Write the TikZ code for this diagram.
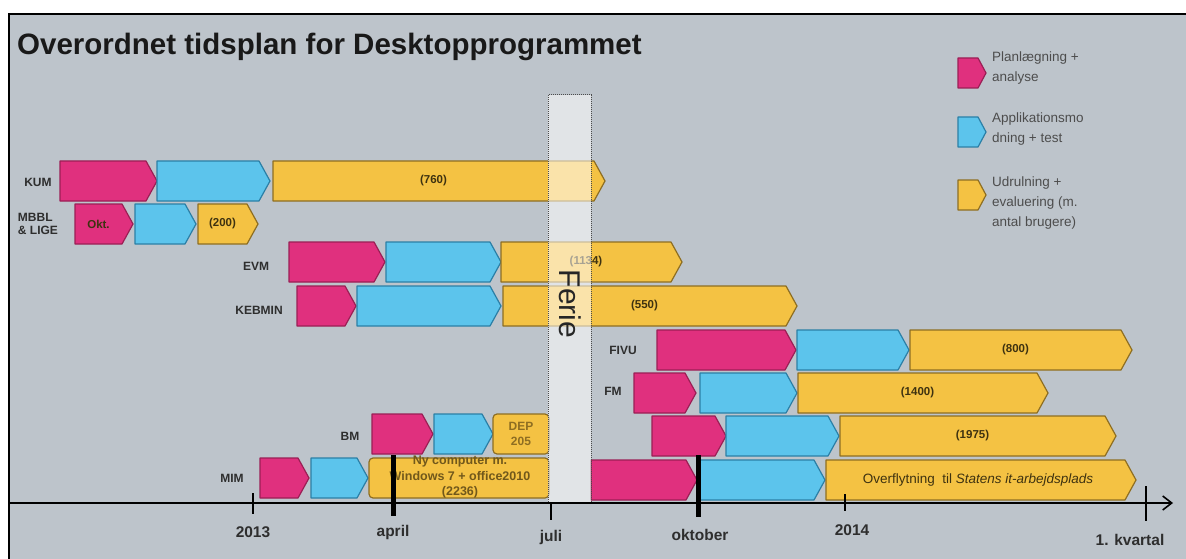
\documentclass[tikz,border=0pt]{standalone}
\usepackage{fontspec}
\setmainfont{Liberation Sans}
\usetikzlibrary{arrows.meta}

\definecolor{panel}{HTML}{BDC4CB}
\definecolor{plan}{HTML}{E0307E}
\definecolor{planline}{HTML}{9B1F55}
\definecolor{app}{HTML}{5CC4EC}
\definecolor{appline}{HTML}{2B7FA6}
\definecolor{roll}{HTML}{F4C243}
\definecolor{rollline}{HTML}{8E6E22}
\definecolor{ink}{HTML}{2E2E2E}
\definecolor{barink}{HTML}{3E3210}

% one phase of a row: name, style, from x, to x, top y, text
\newcommand{\phase}[6]{%
  \draw[#2] (#3,#5) -- (#4-11,#5) -- (#4,#5+20) -- (#4-11,#5+40) -- (#3,#5+40) -- cycle;
  \node[bartxt] (#1) at ({(#3+#4-11)/2},#5+20) {#6};
}

\begin{document}
\begin{tikzpicture}[x=1pt,y=-1pt,
  pl/.style={fill=plan,draw=planline,line width=1.2pt,line join=round},
  ap/.style={fill=app,draw=appline,line width=1.2pt,line join=round},
  ud/.style={fill=roll,draw=rollline,line width=1.2pt,line join=round},
  bartxt/.style={font=\fontsize{11.5}{13}\selectfont\bfseries,text=barink,align=center,inner sep=0pt},
  rowlbl/.style={font=\fontsize{12}{13.5}\selectfont\bfseries,text=ink,align=left,inner sep=0pt},
  axlbl/.style={font=\fontsize{15.5}{17}\selectfont\bfseries,text=ink,inner sep=0pt},
  legtxt/.style={font=\fontsize{13.5}{20}\selectfont,text=ink!85,align=left,anchor=north west,inner sep=0pt}]
  \useasboundingbox (0,0) rectangle (1186,559);
  \fill[white] (0,0) rectangle (1186,559);
  \fill[panel] (9,14) rectangle (1186,559);
  \draw[line width=2pt] (9,559) -- (9,14) -- (1186,14);

  \node[anchor=west,inner sep=0pt,font=\fontsize{29.5}{34}\selectfont\bfseries,text=black!90] (title) at (17,47) {Overordnet tidsplan for Desktopprogrammet};

  % legend
  \draw[pl] (958,58) -- (978,58) -- (986,73) -- (978,88) -- (958,88) -- cycle;
  \node[legtxt] (leg-pl) at (992,52) {Planlægning +\\analyse};
  \draw[ap] (958,117) -- (978,117) -- (986,132) -- (978,147) -- (958,147) -- cycle;
  \node[legtxt] (leg-ap) at (992,113) {Applikationsmo\\dning + test};
  \draw[ud] (958,180) -- (978,180) -- (986,195) -- (978,210) -- (958,210) -- cycle;
  \node[legtxt] (leg-ud) at (992,177) {Udrulning +\\evaluering  (m.\\antal brugere)};

  % rows
  \node[rowlbl] (kum) at (38,182) {KUM};
  \phase{kum-pl}{pl}{60}{157}{161}{}
  \phase{kum-ap}{ap}{157}{270}{161}{}
  \phase{kum-ud}{ud}{273}{605}{161}{(760)}

  \node[rowlbl] (mbbl) at (38,224) {MBBL\\\& LIGE};
  \phase{mbbl-pl}{pl}{75}{133}{204}{Okt.}
  \phase{mbbl-ap}{ap}{135}{196}{204}{}
  \phase{mbbl-ud}{ud}{198}{258}{204}{(200)}

  \node[rowlbl] (evm) at (256,266) {EVM};
  \phase{evm-pl}{pl}{289}{385}{242}{}
  \phase{evm-ap}{ap}{386}{501}{242}{}
  \phase{evm-ud}{ud}{501}{682}{242}{(1134)}

  \node[rowlbl] (kebmin) at (259,310) {KEBMIN};
  \phase{kebmin-pl}{pl}{297}{356}{286}{}
  \phase{kebmin-ap}{ap}{357}{501}{286}{}
  \phase{kebmin-ud}{ud}{503}{797}{286}{(550)}

  \node[rowlbl] (fivu) at (623,350) {FIVU};
  \phase{fivu-pl}{pl}{657}{796}{330}{}
  \phase{fivu-ap}{ap}{797}{909}{330}{}
  \phase{fivu-ud}{ud}{910}{1132}{330}{(800)}

  \node[rowlbl] (fm) at (613,391) {FM};
  \phase{fm-pl}{pl}{634}{696}{373}{}
  \phase{fm-ap}{ap}{700}{797}{373}{}
  \phase{fm-ud}{ud}{798}{1048}{373}{(1400)}

  \phase{r3-pl}{pl}{652}{726}{416}{}
  \phase{r3-ap}{ap}{726}{839}{416}{}
  \phase{r3-ud}{ud}{840}{1116}{416}{(1975)}

  \node[rowlbl] (mim) at (232,478) {MIM};
  \phase{mim-pl}{pl}{260}{309}{458}{}
  \phase{mim-ap}{ap}{311}{368}{458}{}
  \draw[ud,rounded corners=4pt] (369,458) rectangle (549,498);
  \node[bartxt,text=rollline!80!black,font=\fontsize{12.5}{15.5}\selectfont\bfseries] (mim-ud) at (460,477) {Ny computer m.\\Windows 7 + office2010\\(2236)};

  \node[rowlbl] (bm) at (350,436) {BM};
  \phase{bm-pl}{pl}{372}{433}{414}{}
  \phase{bm-ap}{ap}{434}{493}{414}{}
  \draw[ud,rounded corners=4pt] (493,414) rectangle (549,454);
  \node[bartxt,text=rollline,font=\fontsize{12}{15}\selectfont\bfseries] (bm-ud) at (521,434) {DEP\\205};

  \phase{mim2-pl}{pl}{591}{697}{460}{}
  \phase{mim2-ap}{ap}{700}{825}{460}{}
  \phase{mim2-ud}{ud}{826}{1136}{460}{}
  \node[bartxt,font=\fontsize{13.5}{15}\selectfont] (mim2-txt) at (978,480) {Overflytning~ til \textit{Statens it-arbejdsplads}};

  % summer break
  \draw[densely dotted,line width=1pt,draw=black!70,fill=white,fill opacity=0.55] (548,95) rectangle (591,503);
  \node[rotate=-90,font=\fontsize{30}{30}\selectfont,text=black!85,inner sep=0pt] (ferie) at (570,304) {Ferie};

  % time axis
  \coordinate (ax0) at (9,503);
  \coordinate (ax1) at (1173,503);
  \draw[line width=1.8pt,-{Straight Barb[length=9pt,width=14pt,line width=1.6pt]}] (ax0) -- (ax1);
  \draw[line width=2.5pt] (253,493) -- (253,514);
  \draw[line width=5pt] (393,455) -- (393,516);
  \draw[line width=2.5pt] (551,503) -- (551,520);
  \draw[line width=5pt] (698,455) -- (698,517);
  \draw[line width=2.5pt] (845,494) -- (845,511);
  \draw[line width=2pt] (1146,486) -- (1146,521);
  \node[axlbl] (y13) at (253,532) {2013};
  \node[axlbl] (apr) at (393,532) {april};
  \node[axlbl] (jul) at (551,537) {juli};
  \node[axlbl] (okt) at (700,535) {oktober};
  \node[axlbl] (y14) at (852,530) {2014};
  \node[axlbl] (kv1) at (1130,540) {1. kvartal};
\end{tikzpicture}
\end{document}
